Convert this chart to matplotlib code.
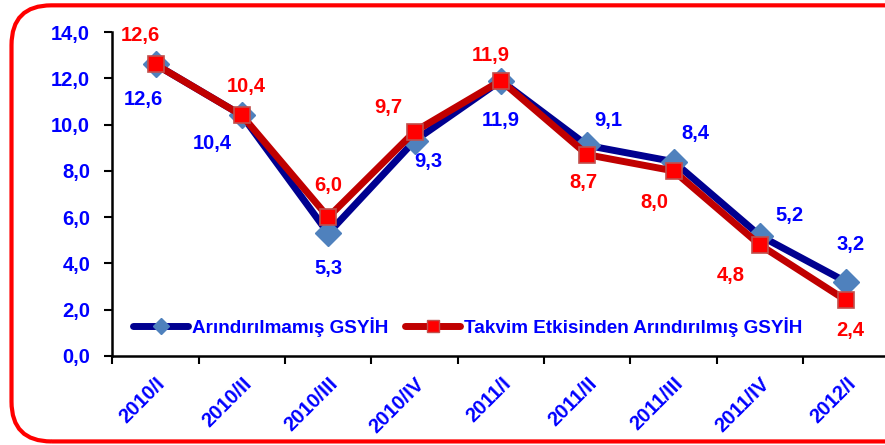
import matplotlib.pyplot as plt
from matplotlib.patches import FancyBboxPatch
from matplotlib.lines import Line2D

plt.rcParams['font.family'] = ['Liberation Sans', 'DejaVu Sans']
plt.rcParams['font.weight'] = 'bold'

# veriler
donemler = ['2010/I', '2010/II', '2010/III', '2010/IV', '2011/I',
            '2011/II', '2011/III', '2011/IV', '2012/I']
arindirilmamis = [12.6, 10.4, 5.3, 9.3, 11.9, 9.1, 8.4, 5.2, 3.2]
takvim = [12.6, 10.4, 6.0, 9.7, 11.9, 8.7, 8.0, 4.8, 2.4]

# etiket kaymalari (piksel)
mavi_kayma = [(-12, -35), (-30, -28), (0, -35), (14, -21), (0, -40),
              (21, 25), (22, 28), (30, 20), (4, 37)]
kirmizi_kayma = [(-15, 29), (4, 29), (0, 32), (-26, 24), (-10, 25),
                 (-4, -28), (-19, -32), (-29, -31), (4, -30)]

MAVI_CIZGI = '#000090'
MAVI_ISARET = '#4F81BD'
KIRMIZI_CIZGI = '#C00000'
KIRMIZI_ISARET = '#FF0000'
YAZI_MAVI = '#0000FF'
YAZI_KIRMIZI = '#FF0000'

fig = plt.figure(figsize=(8.85, 4.45), dpi=100)
ax = fig.add_axes([0.127, 0.2, 0.878, 0.728])

x = range(len(donemler))
ax.plot(x, arindirilmamis, color=MAVI_CIZGI, lw=5, marker='D', ms=13,
        mfc=MAVI_ISARET, mec=MAVI_ISARET, zorder=3)
ax.plot(x, takvim, color=KIRMIZI_CIZGI, lw=5, marker='s', ms=11.5,
        mfc=KIRMIZI_ISARET, mec='#C0504D', mew=1.2, zorder=4)

for i, v in enumerate(arindirilmamis):
    ax.annotate(f'{v:.1f}'.replace('.', ','), (i, v), xytext=mavi_kayma[i],
                textcoords='offset pixels', ha='center', va='center',
                color=YAZI_MAVI, fontsize=14.5, fontweight='bold', zorder=5)
for i, v in enumerate(takvim):
    ax.annotate(f'{v:.1f}'.replace('.', ','), (i, v), xytext=kirmizi_kayma[i],
                textcoords='offset pixels', ha='center', va='center',
                color=YAZI_KIRMIZI, fontsize=14.5, fontweight='bold', zorder=5)

ax.set_xlim(-0.5, len(donemler) - 0.5)
ax.set_ylim(0, 14)
ax.set_yticks([0, 2, 4, 6, 8, 10, 12, 14])
ax.set_yticklabels([f'{t:.1f}'.replace('.', ',') for t in ax.get_yticks()],
                   color=YAZI_MAVI, fontsize=14.5, fontweight='bold')
ax.set_xticks([i - 0.5 for i in range(len(donemler) + 1)], minor=False)
ax.set_xticklabels([''] * (len(donemler) + 1))
ax.set_xticks(list(x), minor=True)
ax.set_xticklabels(donemler, minor=True, rotation=45, ha='right',
                   rotation_mode='anchor', color=YAZI_MAVI, fontsize=14.5,
                   fontweight='bold')
ax.tick_params(axis='x', which='minor', length=0, pad=13)
ax.tick_params(axis='x', which='major', length=6, width=1.5, direction='out')
ax.tick_params(axis='y', length=6, width=1.5, direction='out', pad=10)
for s in ['top', 'right']:
    ax.spines[s].set_visible(False)
for s in ['left', 'bottom']:
    ax.spines[s].set_linewidth(1.8)

h1 = Line2D([], [], color=MAVI_CIZGI, lw=5, marker='D', ms=8,
            mfc=MAVI_ISARET, mec=MAVI_ISARET, solid_capstyle='round')
h2 = Line2D([], [], color=KIRMIZI_CIZGI, lw=5, marker='s', ms=9,
            mfc=KIRMIZI_ISARET, mec='#C0504D', solid_capstyle='round')
leg = ax.legend([h1, h2], ['Arındırılmamış GSYİH',
                           'Takvim Etkisinden Arındırılmış GSYİH'],
                loc='center left', bbox_to_anchor=(0.027, 0.09), ncol=2,
                frameon=False, handlelength=2.9, handletextpad=0.2,
                columnspacing=0.9, borderpad=0, borderaxespad=0,
                prop={'size': 13.6, 'weight': 'bold'})
for t in leg.get_texts():
    t.set_color(YAZI_MAVI)

# kirmizi yuvarlak cerceve
cerceve = FancyBboxPatch((0.013, 0.008), 1.05, 0.98,
                         boxstyle='round,pad=0,rounding_size=0.045',
                         transform=fig.transFigure, fill=False,
                         edgecolor='#FF0000', lw=3,
                         mutation_aspect=885 / 445)
fig.patches.append(cerceve)

fig.savefig('out.png', dpi=100)
